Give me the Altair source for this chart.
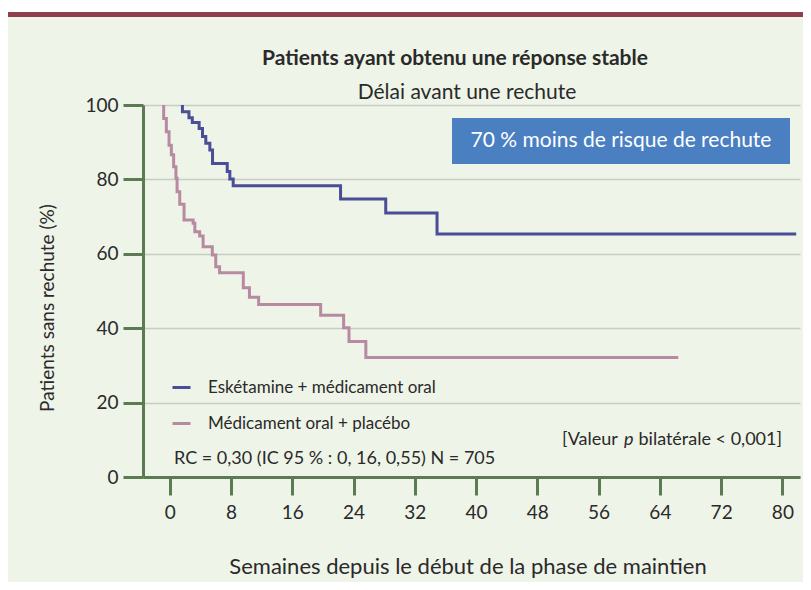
import altair as alt
import pandas as pd

# --- data ---
esk_label = "Eskétamine + médicament oral"
pla_label = "Médicament oral + placébo"
esk_weeks = [1.65, 1.65, 2.5, 2.94, 3.83, 4.27, 4.7, 5.23, 5.58, 7.5, 7.84, 8.28, 22.3, 28.2, 34.9, 81.8]
esk_surv = [100, 98.2, 96.6, 95.3, 93.7, 91.5, 89.7, 87.9, 84.3, 82.1, 80.1, 78.3, 74.7, 71.0, 65.3, 65.3]
pla_weeks = [-0.8, -0.8, -0.45, -0.1, 0.2, 0.5, 0.8, 0.95, 1.3, 1.86, 3.05, 3.27, 3.9, 4.35,
             5.55, 6.0, 6.5, 9.6, 10.4, 11.6, 19.7, 22.7, 23.4, 25.6, 66.4]
pla_surv = [100, 96.4, 92.8, 89.2, 86.6, 83.4, 80.3, 76.7, 73.3, 69.1, 68.2, 65.9, 64.8, 61.9,
            59.7, 56.5, 54.9, 50.9, 48.3, 46.4, 43.5, 40.1, 36.4, 32.1, 32.1]
x_ticks = [0, 8, 16, 24, 32, 40, 48, 56, 64, 72, 80]
y_ticks = [0, 20, 40, 60, 80, 100]

title_text = "Patients ayant obtenu une réponse stable"
subtitle_text = "Délai avant une rechute"
box_text = "70 % moins de risque de rechute"
x_title = "Semaines depuis le début de la phase de maintien"
y_title = "Patients sans rechute (%)"
rc_text = "RC = 0,30 (IC 95 % : 0, 16, 0,55) N = 705"

BLUE = "#4a4d97"
PINK = "#b78aa2"
GREEN = "#5b7b52"
GRID = "#c8ccc4"
BG = "#eef4e7"
TXT = "#2a2a2a"
FONT = "Lato"

rows = []
for i, (w, s) in enumerate(zip(esk_weeks, esk_surv)):
    rows.append({"week": w, "surv": s, "groupe": esk_label, "idx": i})
for i, (w, s) in enumerate(zip(pla_weeks, pla_surv)):
    rows.append({"week": w, "surv": s, "groupe": pla_label, "idx": i})
df = pd.DataFrame(rows)

W, H = 657, 372
one = alt.Data(values=[{"a": 1}])

lines = alt.Chart(df).mark_line(interpolate="step-after", strokeWidth=3).encode(
    x=alt.X("week:Q", scale=alt.Scale(domain=[-3.5, 82.3], nice=False, zero=False),
            axis=alt.Axis(values=x_ticks, tickSize=18, tickWidth=3, tickColor=GREEN,
                          domainColor=GREEN, domainWidth=3, labelFontSize=19,
                          labelPadding=8, labelColor=TXT, grid=False, title=None,
                          labelFont=FONT)),
    y=alt.Y("surv:Q", scale=alt.Scale(domain=[0, 100], nice=False),
            axis=alt.Axis(values=y_ticks, tickSize=20, tickWidth=3, tickColor=GREEN,
                          domainColor=GREEN, domainWidth=3, labelFontSize=19,
                          labelPadding=5, labelColor=TXT, grid=True, gridColor=GRID,
                          gridWidth=1.5, title=None, labelFont=FONT)),
    color=alt.Color("groupe:N",
                    scale=alt.Scale(domain=[esk_label, pla_label], range=[BLUE, PINK]),
                    legend=alt.Legend(title=None, orient="none", legendX=28, legendY=272,
                                      symbolType="stroke", symbolSize=324,
                                      symbolStrokeWidth=3, labelFontSize=17,
                                      labelFont=FONT, labelColor=TXT, labelOffset=16,
                                      labelLimit=400, rowPadding=17)),
    order="idx:Q",
)


def rect(x, x2, y, y2, color):
    return alt.Chart(one).mark_rect(color=color).encode(
        x=alt.value(x), x2=alt.value(x2), y=alt.value(y), y2=alt.value(y2))


def text(t, x, y, size, align="center", weight="normal", color=TXT, angle=0, style="normal"):
    kw = dict(align=align, baseline="middle", fontSize=size, fontWeight=weight,
              color=color, font=FONT, fontStyle=style)
    if angle:
        kw["angle"] = angle
    return alt.Chart(one).mark_text(**kw).encode(
        x=alt.value(x), y=alt.value(y), text=alt.value(t))


layers = [
    rect(-135, 660, -97, -93, "#ffffff"),
    rect(-135, 660, -93, -88, "#8f3e4c"),
    lines,
    rect(309, 647, 13, 59, "#4a80c1"),
    text(box_text, 478, 36, 21, color="#ffffff"),
    text(title_text, 312, -46, 21, weight="bold"),
    text(subtitle_text, 324, -12, 21),
    text(x_title, 325, 462, 22),
    text(y_title, -95, 203, 19, angle=270),
    text(rc_text, 31, 354, 18, align="left"),
    text("[Valeur", 419, 335, 18, align="left"),
    text("p", 481, 335, 18, align="left", style="italic"),
    text("bilatérale < 0,001]", 639, 335, 18, align="right"),
]

chart = alt.layer(*layers).properties(
    width=W, height=H,
    autosize=alt.AutoSizeParams(type="none"),
    padding={"left": 135, "top": 97, "right": 3, "bottom": 105},
    background=BG,
).configure_view(stroke=None)

chart.save("out.html", embed_options={"renderer": "svg", "actions": False})
